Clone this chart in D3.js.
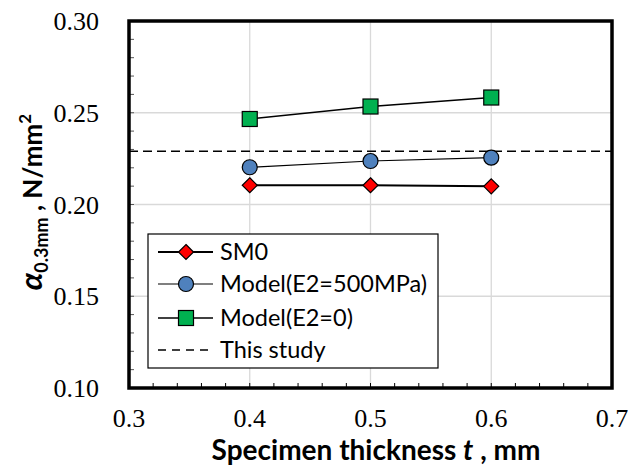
<!DOCTYPE html>
<html lang="en">
  <head>
    <meta charset="utf-8" />
    <script src="https://d3js.org/d3.v7.min.js"></script>
    <style>
      body { margin: 0; background: #fff; }
    </style>
  </head>
  <body>
    <script>
      // data
      var thickness = [0.4, 0.5, 0.6];
      var sm0 = [0.2105, 0.2105, 0.2099];
      var modelE500 = [0.2203, 0.2237, 0.2255];
      var modelE0 = [0.2466, 0.2534, 0.2583];
      var thisStudy = 0.229;
      var xTicks = [0.3, 0.4, 0.5, 0.6, 0.7];
      var yTicks = [0.1, 0.15, 0.2, 0.25, 0.3];
      var seriesNames = ["SM0", "Model(E2=500MPa)", "Model(E2=0)", "This study"];

      var width = 628, height = 467;
      var margin = { top: 21, right: 16, bottom: 79, left: 129 };
      var w = width - margin.left - margin.right,
        h = height - margin.top - margin.bottom;

      var x = d3.scaleLinear().domain([0.3, 0.7]).range([0, w]);
      var y = d3.scaleLinear().domain([0.1, 0.3]).range([h, 0]);

      var svg = d3
        .select("body")
        .append("svg")
        .attr("width", width)
        .attr("height", height);
      var g = svg
        .append("g")
        .attr("transform", "translate(" + margin.left + "," + margin.top + ")");

      // grid
      g.selectAll(".vgrid")
        .data(xTicks.slice(1, -1))
        .enter()
        .append("line")
        .attr("x1", function (d) { return x(d); })
        .attr("x2", function (d) { return x(d); })
        .attr("y1", 0)
        .attr("y2", h)
        .attr("stroke", "#d9d9d9")
        .attr("stroke-width", 1.3);
      g.selectAll(".hgrid")
        .data(yTicks.slice(1, -1))
        .enter()
        .append("line")
        .attr("y1", function (d) { return y(d); })
        .attr("y2", function (d) { return y(d); })
        .attr("x1", 0)
        .attr("x2", w)
        .attr("stroke", "#d9d9d9")
        .attr("stroke-width", 1.3);

      // minor ticks (inside)
      var xMinor = d3.range(0.32, 0.7, 0.02);
      g.selectAll(".xminor")
        .data(xMinor)
        .enter()
        .append("line")
        .attr("x1", function (d) { return x(d); })
        .attr("x2", function (d) { return x(d); })
        .attr("y1", h)
        .attr("y2", h - 5)
        .attr("stroke", "#000")
        .attr("stroke-width", 1);
      var yMinor = d3.range(0.11, 0.3, 0.01);
      g.selectAll(".yminor")
        .data(yMinor)
        .enter()
        .append("line")
        .attr("y1", function (d) { return y(d); })
        .attr("y2", function (d) { return y(d); })
        .attr("x1", 0)
        .attr("x2", 5)
        .attr("stroke", "#555")
        .attr("stroke-width", 1);

      // tick labels
      var tickFont = "Liberation Serif, DejaVu Serif, serif";
      g.selectAll(".xlab")
        .data(xTicks)
        .enter()
        .append("text")
        .attr("x", function (d) { return x(d); })
        .attr("y", h + 39)
        .attr("text-anchor", "middle")
        .style("font-family", tickFont)
        .style("font-size", "26px")
        .text(d3.format(".1f"));
      g.selectAll(".ylab")
        .data(yTicks)
        .enter()
        .append("text")
        .attr("x", -30)
        .attr("y", function (d) { return y(d); })
        .attr("dy", "0.35em")
        .attr("text-anchor", "end")
        .style("font-family", tickFont)
        .style("font-size", "26px")
        .text(d3.format(".2f"));

      // this study dashed line
      g.append("line")
        .attr("x1", 0)
        .attr("x2", w)
        .attr("y1", y(thisStudy))
        .attr("y2", y(thisStudy))
        .attr("stroke", "#000")
        .attr("stroke-width", 1.6)
        .attr("stroke-dasharray", "9,5");

      var line = d3.line()
        .x(function (d, i) { return x(thickness[i]); })
        .y(function (d) { return y(d); });

      var series = [
        { name: seriesNames[0], values: sm0, color: "#ff0000", shape: "diamond", lw: 2 },
        { name: seriesNames[1], values: modelE500, color: "#4f81bd", shape: "circle", lw: 1.2 },
        { name: seriesNames[2], values: modelE0, color: "#00b050", shape: "square", lw: 1.5 }
      ];

      function marker(sel, s) {
        if (s.shape === "diamond") {
          sel.append("path").attr("d", "M0,-7.5L7.5,0L0,7.5L-7.5,0Z");
        } else if (s.shape === "circle") {
          sel.append("circle").attr("r", 7.5);
        } else {
          sel.append("rect").attr("x", -7.5).attr("y", -7.5).attr("width", 15).attr("height", 15);
        }
        sel.selectAll("path,circle,rect")
          .attr("fill", s.color)
          .attr("stroke", "#000")
          .attr("stroke-width", 1.2);
      }

      series.forEach(function (s) {
        g.append("path")
          .attr("d", line(s.values))
          .attr("fill", "none")
          .attr("stroke", "#000")
          .attr("stroke-width", s.lw);
        s.values.forEach(function (v, i) {
          var m = g.append("g")
            .attr("transform", "translate(" + x(thickness[i]) + "," + y(v) + ")");
          marker(m, s);
        });
      });

      // frame
      g.append("rect")
        .attr("x", 0)
        .attr("y", 0)
        .attr("width", w)
        .attr("height", h)
        .attr("fill", "none")
        .attr("stroke", "#000")
        .attr("stroke-width", 3.5);

      // legend
      var legendFont = "Lato, 'Open Sans', sans-serif";
      var lg = svg.append("g").attr("transform", "translate(148,234)");
      lg.append("rect")
        .attr("width", 290)
        .attr("height", 134)
        .attr("fill", "#fff")
        .attr("stroke", "#000")
        .attr("stroke-width", 1.2);
      var rows = [18, 50, 84, 116];
      series.forEach(function (s, i) {
        var r = lg.append("g").attr("transform", "translate(0," + rows[i] + ")");
        r.append("line")
          .attr("x1", 10).attr("x2", 65)
          .attr("stroke", "#000").attr("stroke-width", s.lw);
        var m = r.append("g").attr("transform", "translate(38,0)");
        marker(m, s);
        r.append("text")
          .attr("x", 72)
          .attr("dy", "0.36em")
          .attr("font-family", legendFont)
          .attr("font-size", 23.5)
          .text(s.name);
      });
      var r4 = lg.append("g").attr("transform", "translate(0," + rows[3] + ")");
      r4.append("line")
        .attr("x1", 10).attr("x2", 65)
        .attr("stroke", "#000").attr("stroke-width", 1.5)
        .attr("stroke-dasharray", "8,6");
      r4.append("text")
        .attr("x", 72)
        .attr("dy", "0.36em")
        .attr("font-family", legendFont)
        .attr("font-size", 23.5)
        .text(seriesNames[3]);

      // axis titles
      var xt = svg.append("text")
        .attr("x", 376)
        .attr("y", 460)
        .attr("text-anchor", "middle")
        .attr("font-family", legendFont)
        .attr("font-weight", "bold")
        .attr("font-size", 28);
      xt.append("tspan").text("Specimen thickness ");
      xt.append("tspan").attr("font-style", "italic").text("t");
      xt.append("tspan").text(" , mm");

      var yt = svg.append("text")
        .attr("transform", "translate(42,202) rotate(-90)")
        .attr("text-anchor", "middle")
        .attr("font-family", legendFont)
        .attr("font-weight", "bold")
        .attr("font-size", 26);
      yt.append("tspan").attr("font-style", "italic").attr("font-size", 31).text("α");
      yt.append("tspan").attr("font-size", 18).attr("dy", 6).text("0.3mm");
      yt.append("tspan").attr("dy", -6).text(" , N/mm");
      yt.append("tspan").attr("font-size", 17).attr("dy", -11).text("2");
    </script>
  </body>
</html>
